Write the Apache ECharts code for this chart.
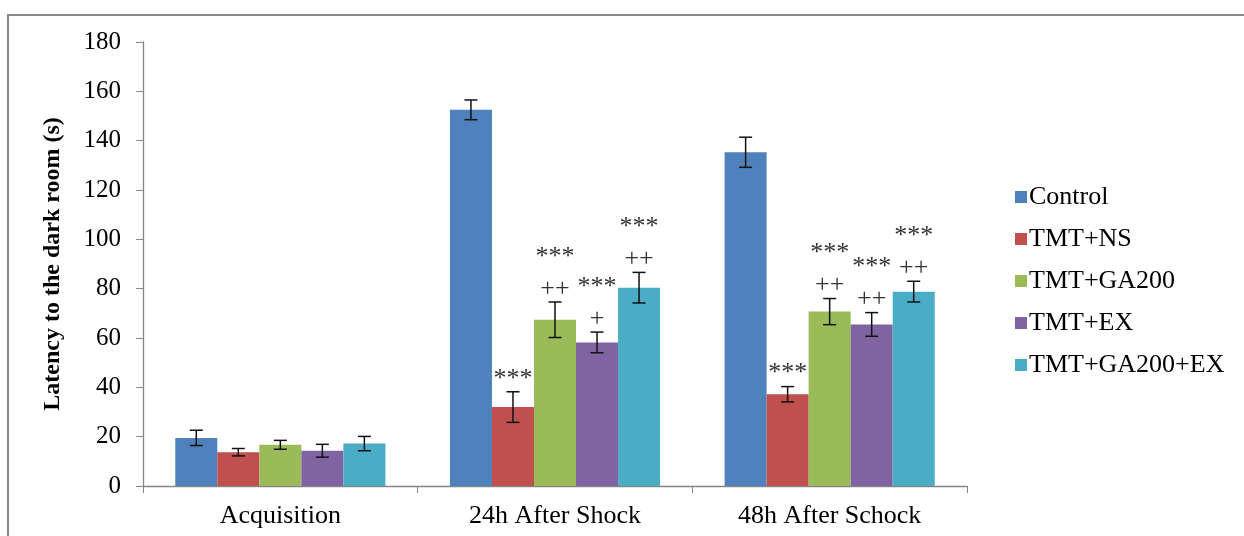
<!DOCTYPE html>
<html>
<head>
<meta charset="utf-8">
<script src="https://cdn.jsdelivr.net/npm/echarts@6/dist/echarts.min.js"></script>
<style>html,body{margin:0;padding:0;background:#fff;}#c{width:1244px;height:536px;}</style>
</head>
<body>
<div id="c"></div>
<script>
var categories = ['Acquisition', '24h After Shock', '48h After Schock'];
var seriesNames = ['Control', 'TMT+NS', 'TMT+GA200', 'TMT+EX', 'TMT+GA200+EX'];
var colors = ['#4F81BD', '#C0504D', '#9BBB59', '#8064A2', '#4BACC6'];
var controlMean = [19.5, 152.5, 135.3];
var controlSD = [3.1, 4.0, 6.1];
var nsMean = [13.7, 32.0, 37.2];
var nsSD = [1.5, 6.2, 3.1];
var ga200Mean = [16.7, 67.4, 70.7];
var ga200SD = [1.8, 7.2, 5.3];
var exMean = [14.3, 58.2, 65.5];
var exSD = [2.6, 4.2, 4.8];
var comboMean = [17.2, 80.4, 78.8];
var comboSD = [2.9, 6.2, 4.2];
var controlMarks = ['', '', ''];
var nsMarks = ['', '***', '***'];
var ga200Marks = ['', '***\n++', '***\n++'];
var exMarks = ['', '***\n+', '***\n++'];
var comboMarks = ['', '***\n++', '***\n++'];
var yTicks = [0, 20, 40, 60, 80, 100, 120, 140, 160, 180];

var means = [controlMean, nsMean, ga200Mean, exMean, comboMean];
var sds = [controlSD, nsSD, ga200SD, exSD, comboSD];
var marks = [controlMarks, nsMarks, ga200Marks, exMarks, comboMarks];

var FONT = '"Liberation Serif", "Times New Roman", serif';
var GAP = 0.235;
var chart = echarts.init(document.getElementById('c'));
var series = [];
seriesNames.forEach(function (name, i) {
  series.push({
    name: name, type: 'bar', data: means[i],
    itemStyle: { color: colors[i] },
    barGap: '0%', barCategoryGap: (GAP * 100) + '%',
    emphasis: { disabled: true }
  });
});
seriesNames.forEach(function (name, i) {
  var data = categories.map(function (c, k) { return [k, means[i][k], sds[i][k], marks[i][k]]; });
  series.push({
    type: 'custom', name: name + '_err', data: data, z: 10, silent: true,
    encode: { x: 0, y: 1 },
    renderItem: function (params, api) {
      var k = api.value(0), m = api.value(1), s = api.value(2);
      var mk = data[params.dataIndex][3];
      var band = api.size([1, 0])[0];
      var bw = band * (1 - GAP) / seriesNames.length;
      var c = api.coord([k, m]);
      var x = c[0] + (i - (seriesNames.length - 1) / 2) * bw;
      var yt = api.coord([k, m + s])[1];
      var yb = api.coord([k, m - s])[1];
      var hw = 6.5;
      var st = { stroke: '#111', lineWidth: 1.5 };
      var children = [
        { type: 'line', shape: { x1: x, y1: yt, x2: x, y2: yb }, style: st },
        { type: 'line', shape: { x1: x - hw, y1: yt, x2: x + hw, y2: yt }, style: st },
        { type: 'line', shape: { x1: x - hw, y1: yb, x2: x + hw, y2: yb }, style: st }
      ];
      if (mk) {
        children.push({
          type: 'text',
          style: {
            text: mk, x: x, y: yt + 3, align: 'center', verticalAlign: 'bottom',
            fontFamily: FONT, fontSize: 26, lineHeight: 32, fill: '#333'
          }
        });
      }
      return { type: 'group', children: children };
    }
  });
});

chart.setOption({
  animation: false,
  backgroundColor: '#fff',
  textStyle: { fontFamily: FONT },
  graphic: [{
    type: 'rect', shape: { x: 8, y: 15, width: 1260, height: 560 },
    style: { fill: 'none', stroke: '#898989', lineWidth: 2 }, silent: true, z: -1
  }],
  legend: {
    orient: 'vertical', left: 1010, top: 179,
    data: seriesNames, icon: 'rect', itemWidth: 12, itemHeight: 12, itemGap: 16,
    textStyle: { fontFamily: FONT, fontSize: 26, color: '#000', padding: [0, 0, 0, -3] }
  },
  grid: { left: 143, right: 277, top: 42, bottom: 50, containLabel: false },
  xAxis: {
    type: 'category', data: categories,
    axisLine: { lineStyle: { color: '#868686', width: 1.3 } },
    axisTick: { show: true, length: 7, lineStyle: { color: '#868686' }, alignWithLabel: false },
    axisLabel: { fontFamily: FONT, fontSize: 26, color: '#000', margin: 17 }
  },
  yAxis: {
    type: 'value', min: 0, max: 180, interval: 20,
    name: 'Latency to the dark room (s)', nameLocation: 'middle', nameRotate: 90, nameGap: 78,
    nameTextStyle: { fontFamily: FONT, fontSize: 24, fontWeight: 'bold', color: '#000' },
    axisLine: { show: true, lineStyle: { color: '#868686', width: 1.3 } },
    axisTick: { show: true, length: 7, lineStyle: { color: '#868686' } },
    splitLine: { show: false },
    axisLabel: {
      fontFamily: FONT, fontSize: 25, color: '#000', margin: 22,
      formatter: function (v) { return yTicks.indexOf(v) >= 0 ? String(v) : ''; }
    }
  },
  series: series
});
</script>
</body>
</html>
